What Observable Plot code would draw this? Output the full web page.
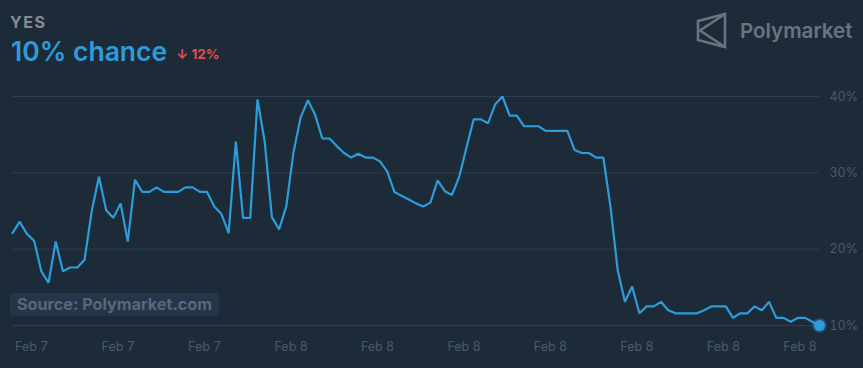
<!DOCTYPE html>
<html>
<head>
<meta charset="utf-8">
<script src="https://cdn.jsdelivr.net/npm/d3@7"></script>
<script src="https://cdn.jsdelivr.net/npm/@observablehq/plot@0.6"></script>
<style>
  html, body { margin: 0; padding: 0; background: #1d2b39; }
  #wrap { position: relative; width: 863px; height: 368px; overflow: hidden; background: #1d2b39; font-family: Inter, "Noto Sans", sans-serif; }
  #chart { position: absolute; left: 0; top: 0; }
  .abs { position: absolute; line-height: 1; white-space: nowrap; }
  #yes { left: 10px; top: 14px; font-size: 16px; font-weight: 700; letter-spacing: 1.6px; color: #858c93; }
  #chance { left: 11px; top: 38px; font-size: 26.5px; font-weight: 600; color: #2d9cdb; }
  #delta { left: 176px; top: 48px; font-size: 13.5px; font-weight: 700; color: #e2504c; }
  #brand { left: 740px; top: 21px; font-size: 20.5px; font-weight: 600; color: #6b747d; }
  #logo { position: absolute; left: 695px; top: 12px; }
  #source { left: 10px; top: 293px; height: 23px; padding: 0 7px 0 7px; border-radius: 4px; background: #25364a; color: #5c6773; font-size: 16.2px; font-weight: 700; line-height: 23px; }
</style>
</head>
<body>
<div id="wrap">
  <div id="chart"></div>
  <div class="abs" id="yes">YES</div>
  <div class="abs" id="chance">10% chance</div>
  <div class="abs" id="delta">↓ 12%</div>
  <svg id="logo" width="34" height="38" viewBox="0 0 34 38">
    <g fill="none" stroke="#6b747d" stroke-width="2.6" stroke-linejoin="miter">
      <path d="M3,9 L30,2 L30,35 L3,28 Z"/>
      <path d="M30,2 L5,18.5 L30,35"/>
    </g>
  </svg>
  <div class="abs" id="brand">Polymarket</div>
  <div class="abs" id="source">Source: Polymarket.com</div>
</div>
<script>
// Series: "Yes" chance (%), sampled every 15 minutes from Feb 7 14:20 (UTC) to Feb 8 18:20
const startTime = "2025-02-07T14:20:00Z";
const stepMinutes = 15;
const yesChance = [
  22.1, 23.6, 22.0, 21.1, 17.1, 15.6, 21.0, 17.1, 17.6, 17.6,
  18.6, 25.0, 29.5, 25.1, 24.1, 26.0, 21.0, 29.1, 27.5, 27.5,
  28.1, 27.5, 27.5, 27.5, 28.1, 28.1, 27.5, 27.5, 25.6, 24.6,
  22.1, 34.1, 24.1, 24.1, 39.6, 34.1, 24.2, 22.6, 25.6, 32.7,
  37.3, 39.5, 37.6, 34.5, 34.5, 33.5, 32.6, 32.0, 32.5, 32.0,
  32.0, 31.5, 30.2, 27.5, 27.0, 26.5, 26.0, 25.6, 26.1, 29.0,
  27.6, 27.1, 29.5, 33.3, 37.0, 37.0, 36.5, 39.0, 40.0, 37.5,
  37.5, 36.1, 36.1, 36.1, 35.5, 35.5, 35.5, 35.5, 33.0, 32.6,
  32.6, 32.0, 32.0, 25.5, 17.2, 13.1, 15.1, 11.6, 12.5, 12.5,
  13.1, 12.0, 11.6, 11.6, 11.6, 11.6, 12.0, 12.5, 12.5, 12.5,
  11.0, 11.6, 11.6, 12.5, 12.0, 13.1, 11.0, 11.0, 10.5, 11.0,
  11.0, 10.5, 10.0
];
const yTicks = [10, 20, 30, 40];
const xTickTimes = [
  "2025-02-07T15:00:00Z", "2025-02-07T18:00:00Z", "2025-02-07T21:00:00Z",
  "2025-02-08T00:00:00Z", "2025-02-08T03:00:00Z", "2025-02-08T06:00:00Z",
  "2025-02-08T09:00:00Z", "2025-02-08T12:00:00Z", "2025-02-08T15:00:00Z",
  "2025-02-08T18:00:00Z"
];
const xTickLabels = ["Feb 7", "Feb 7", "Feb 7", "Feb 8", "Feb 8", "Feb 8", "Feb 8", "Feb 8", "Feb 8", "Feb 8"];

const t0 = new Date(startTime).getTime();
const rows = yesChance.map((v, i) => ({t: new Date(t0 + i * stepMinutes * 60000), v}));
const last = rows[rows.length - 1];
const tickDates = xTickTimes.map(s => new Date(s));
const labelOf = d => xTickLabels[tickDates.findIndex(t => +t === +d)];

const axisStyle = {tickSize: 0, tickPadding: 17, fill: "#4c5967", tickFormat: labelOf, label: null};

const chart = Plot.plot({
  width: 863,
  height: 368,
  marginLeft: 12,
  marginRight: 44,
  marginTop: 96,
  marginBottom: 43,
  style: {background: "transparent", fontFamily: "Inter, 'Noto Sans', sans-serif", fontSize: "12.5px"},
  x: {type: "utc", domain: [rows[0].t, last.t], axis: null, label: null},
  y: {domain: [10, 40], axis: null, label: null},
  marks: [
    Plot.gridY(yTicks, {stroke: "#2d3e4e", strokeOpacity: 1, strokeWidth: 1}),
    Plot.axisY(yTicks, {anchor: "right", tickSize: 0, tickPadding: 10, fill: "#4c5967", tickFormat: d => d + "%", label: null}),
    Plot.axisX(tickDates.slice(0, -1), {...axisStyle, anchor: "bottom"}),
    Plot.axisX(tickDates.slice(-1), {...axisStyle, anchor: "bottom", dx: -10}),
    Plot.line(rows, {x: "t", y: "v", stroke: "#2d9cdb", strokeWidth: 2.2, strokeLinejoin: "miter"}),
    Plot.dot([last], {x: "t", y: "v", r: 7.5, fill: "#2d9cdb", fillOpacity: 0.3}),
    Plot.dot([last], {x: "t", y: "v", r: 5.5, fill: "#2d9cdb"})
  ]
});
document.getElementById("chart").appendChild(chart);
</script>
</body>
</html>
